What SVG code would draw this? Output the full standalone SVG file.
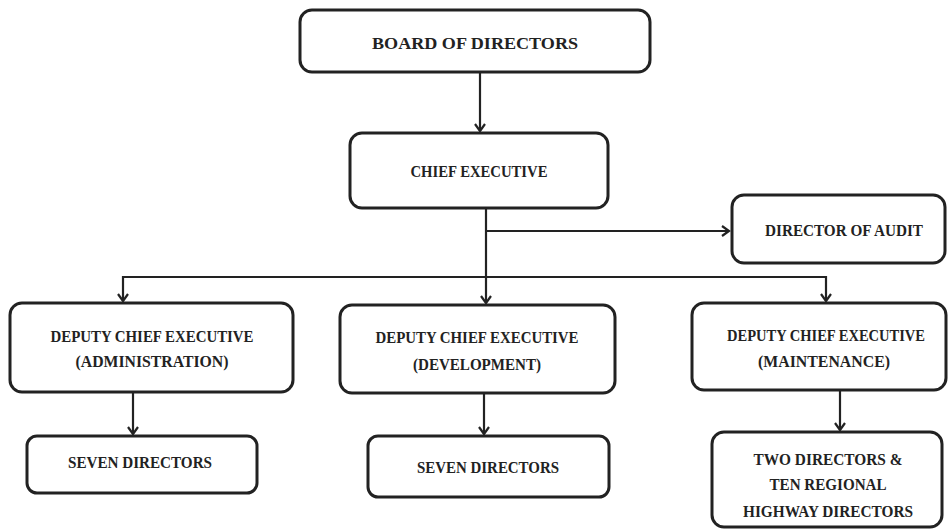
<svg xmlns="http://www.w3.org/2000/svg" width="948" height="530" viewBox="0 0 948 530">
<style>
.box{fill:#fff;stroke:#222;stroke-width:3}
.t{font-family:"Liberation Serif","DejaVu Serif",serif;font-weight:bold;font-size:16px;fill:#222;text-anchor:middle}
.c{fill:none;stroke:#222;stroke-width:2.2}
</style>
<defs>
<marker id="ah" markerWidth="12" markerHeight="12" refX="10" refY="6" orient="auto" markerUnits="userSpaceOnUse">
<path d="M3,1 L10,6 L3,11" fill="none" stroke="#222" stroke-width="2.2"/>
</marker>
</defs>
<rect width="948" height="530" fill="#fff"/>
<g id="connectors">
<line class="c" x1="480" y1="72" x2="480" y2="131" marker-end="url(#ah)"/>
<line class="c" x1="486" y1="208" x2="486" y2="303" marker-end="url(#ah)"/>
<line class="c" x1="486" y1="231" x2="729" y2="231" marker-end="url(#ah)"/>
<line class="c" x1="122" y1="277" x2="826" y2="277"/>
<line class="c" x1="123" y1="276" x2="123" y2="301" marker-end="url(#ah)"/>
<line class="c" x1="826" y1="276" x2="826" y2="301" marker-end="url(#ah)"/>
<line class="c" x1="133" y1="392" x2="133" y2="434" marker-end="url(#ah)"/>
<line class="c" x1="484" y1="393" x2="484" y2="434" marker-end="url(#ah)"/>
<line class="c" x1="840" y1="390" x2="840" y2="430" marker-end="url(#ah)"/>
</g>
<g id="board">
<rect class="box" x="300" y="10" width="350" height="62" rx="12"/>
<text class="t" x="475" y="49" font-size="19" textLength="206" lengthAdjust="spacingAndGlyphs">BOARD OF DIRECTORS</text>
</g>
<g id="chief">
<rect class="box" x="350" y="133" width="258" height="75" rx="12"/>
<text class="t" x="479" y="177" textLength="137" lengthAdjust="spacingAndGlyphs">CHIEF EXECUTIVE</text>
</g>
<g id="audit">
<rect class="box" x="732" y="195" width="213" height="68" rx="12"/>
<text class="t" x="844" y="236" font-size="17" textLength="158" lengthAdjust="spacingAndGlyphs">DIRECTOR OF AUDIT</text>
</g>
<g id="dce-admin">
<rect class="box" x="10" y="303" width="283" height="89" rx="12"/>
<text class="t" x="152" y="342" textLength="203" lengthAdjust="spacingAndGlyphs">DEPUTY CHIEF EXECUTIVE</text>
<text class="t" x="152" y="367" textLength="153" lengthAdjust="spacingAndGlyphs">(ADMINISTRATION)</text>
</g>
<g id="dce-dev">
<rect class="box" x="340" y="305" width="275" height="88" rx="12"/>
<text class="t" x="477" y="343" textLength="203" lengthAdjust="spacingAndGlyphs">DEPUTY CHIEF EXECUTIVE</text>
<text class="t" x="477" y="370" textLength="128" lengthAdjust="spacingAndGlyphs">(DEVELOPMENT)</text>
</g>
<g id="dce-maint">
<rect class="box" x="692" y="303" width="254" height="87" rx="12"/>
<text class="t" x="826" y="341" textLength="198" lengthAdjust="spacingAndGlyphs">DEPUTY CHIEF EXECUTIVE</text>
<text class="t" x="824" y="367" textLength="132" lengthAdjust="spacingAndGlyphs">(MAINTENANCE)</text>
</g>
<g id="seven-admin">
<rect class="box" x="27" y="436" width="230" height="57" rx="10"/>
<text class="t" x="140" y="468" textLength="144" lengthAdjust="spacingAndGlyphs">SEVEN DIRECTORS</text>
</g>
<g id="seven-dev">
<rect class="box" x="368" y="436" width="241" height="61" rx="10"/>
<text class="t" x="488" y="473" textLength="142" lengthAdjust="spacingAndGlyphs">SEVEN DIRECTORS</text>
</g>
<g id="regional">
<rect class="box" x="712" y="432" width="230" height="95" rx="12"/>
<text class="t" x="828" y="465" textLength="149" lengthAdjust="spacingAndGlyphs">TWO DIRECTORS &amp;</text>
<text class="t" x="828" y="490" textLength="117" lengthAdjust="spacingAndGlyphs">TEN REGIONAL</text>
<text class="t" x="828" y="517" textLength="170" lengthAdjust="spacingAndGlyphs">HIGHWAY DIRECTORS</text>
</g>
</svg>
